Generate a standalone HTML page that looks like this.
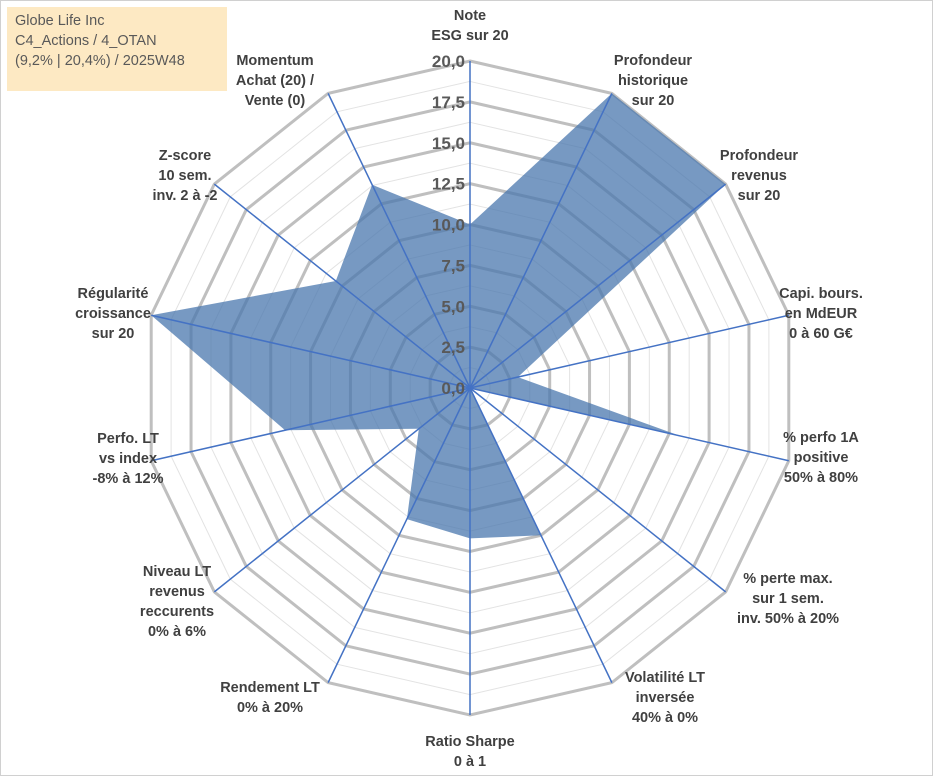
<!DOCTYPE html>
<html><head><meta charset="utf-8"><style>
body{margin:0;background:#fff;font-family:"Liberation Sans",Arial,sans-serif;}
#wrap{position:relative;width:933px;height:776px;overflow:hidden;}
.lbl{position:absolute;font-weight:bold;font-size:14.5px;color:#404040;text-align:center;line-height:20px;white-space:nowrap;transform:translateX(-50%);}
#title{position:absolute;left:6px;top:6px;width:220px;height:84px;background:#fde9c3;font-size:14.5px;color:#595959;line-height:20px;padding:4px 0 0 8px;box-sizing:border-box;}
</style></head><body>
<div id="wrap" style="border:1px solid #d0d0d0;box-sizing:border-box;">
<svg id="svg" width="933" height="776" style="position:absolute;left:0;top:0"></svg>
<div id="title">Globe Life Inc<br>C4_Actions / 4_OTAN<br>(9,2% | 20,4%) / 2025W48</div>
<div id="labels"></div>
</div>
<script>
const categories=["Note\nESG sur 20","Profondeur\nhistorique\nsur 20","Profondeur\nrevenus\nsur 20","Capi. bours.\nen MdEUR\n0 à 60 G€","% perfo 1A\npositive\n50% à 80%","% perte max.\nsur 1 sem.\ninv. 50% à 20%","Volatilité LT\ninversée\n40% à 0%","Ratio Sharpe\n0 à 1","Rendement LT\n0% à 20%","Niveau LT\nrevenus\nreccurents\n0% à 6%","Perfo. LT\nvs index\n-8% à 12%","Régularité\ncroissance\nsur 20","Z-score\n10 sem.\ninv. 2 à -2","Momentum\nAchat (20) /\nVente (0)"];
const values=[10,20,20,3,13.2,0,10,9.2,8.9,4,11.6,20,10.5,13.8];
const tickLabels=["0,0","2,5","5,0","7,5","10,0","12,5","15,0","17,5","20,0"];
const maxVal=20;
const cx=469,cy=387,R=327;
const svg=document.getElementById('svg');
const NS="http://www.w3.org/2000/svg";
const n=categories.length;
function ang(i){return i*2*Math.PI/n;}
function pt(i,v){const r=v/maxVal*R;return [cx+r*Math.sin(ang(i)),cy-r*Math.cos(ang(i))];}
function mk(t,a){const e=document.createElementNS(NS,t);for(const k in a)e.setAttribute(k,a[k]);svg.appendChild(e);return e;}
// minor grid
for(let k=1;k<=16;k++){if(k%2===0)continue;const v=k*maxVal/16;
 const p=[];for(let i=0;i<n;i++)p.push(pt(i,v).join(','));
 const e=mk('polygon',{points:p.join(' '),fill:'none',stroke:'#e3e3e3','stroke-width':1});
 
 }
for(let k=1;k<tickLabels.length;k++){const v=k*maxVal/(tickLabels.length-1);
 const p=[];for(let i=0;i<n;i++)p.push(pt(i,v).join(','));
 const e=mk('polygon',{points:p.join(' '),fill:'none',stroke:'#bfbfbf','stroke-width':3});
 
 }
// series
const sp=values.map((v,i)=>pt(i,v).join(',')).join(' ');
const s=mk('polygon',{points:sp,fill:'#4a77ad','fill-opacity':0.75,stroke:'none'});


// axes
for(let i=0;i<n;i++){const [x,y]=pt(i,maxVal);
 const l=mk('line',{x1:cx,y1:cy,x2:x,y2:y,stroke:'#4472c4','stroke-width':1.5});
 
 }
// tick labels
tickLabels.forEach((t,k)=>{const v=k*maxVal/(tickLabels.length-1);const y=cy-v/maxVal*R;
 const e=mk('text',{x:cx-5,y:y+6,'text-anchor':'end','font-size':17,'font-weight':'bold',fill:'#595959','font-family':'Liberation Sans, sans-serif'});
 e.textContent=t;
 
 });
// category labels
const lab=document.getElementById('labels');
const pos=[[469,5],[652,50],[758,145],[820,283],[820,427],[787,568],[664,667],[469,731],[269,677],[176,561],[127,428],[112,283],[184,145],[274,50]];
categories.forEach((c,i)=>{const d=document.createElement('div');d.className='lbl';
 d.style.left=pos[i][0]+'px';d.style.top=pos[i][1]+'px';
 d.innerHTML=c.split('\n').join('<br>');
 
 
 lab.appendChild(d);});
</script>
</body></html>
